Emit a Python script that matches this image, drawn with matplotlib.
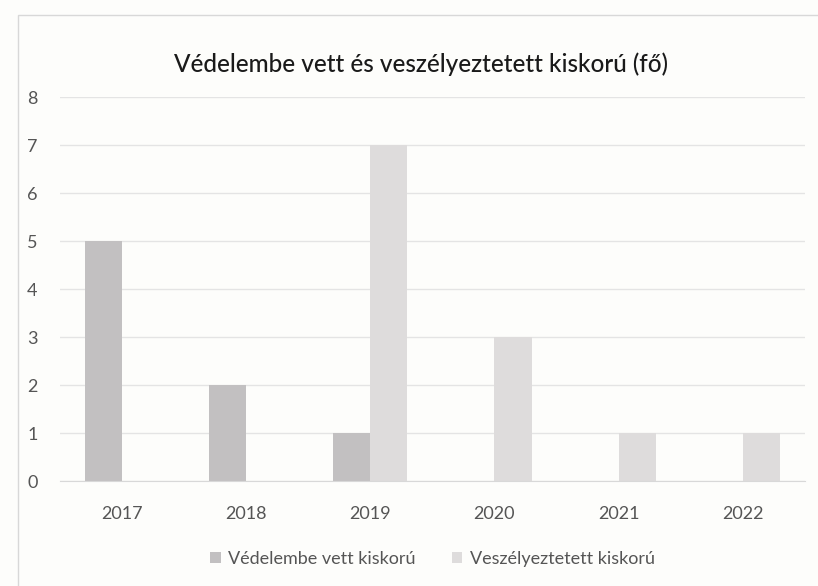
import matplotlib.pyplot as plt
import numpy as np

# données
evek = ["2017", "2018", "2019", "2020", "2021", "2022"]
vedelembe_vett = [5, 2, 1, 0, 0, 0]
veszelyeztetett = [0, 0, 7, 3, 1, 1]
cimkek = ["Védelembe vett kiskorú", "Veszélyeztetett kiskorú"]
cim = "Védelembe vett és veszélyeztetett kiskorú (fő)"

plt.rcParams['font.family'] = ['Lato', 'DejaVu Sans']

fig = plt.figure(figsize=(8.18, 5.86), dpi=100)
fig.patch.set_facecolor("#fdfdfb")

# cadre du graphique (scan)
fig.add_artist(plt.Rectangle((0.022, -0.05), 1.2, 1.025, transform=fig.transFigure,
                             fill=False, edgecolor="#d8d8d8", lw=1.0))

ax = fig.add_axes([0.073, 0.179, 0.911, 0.655])
ax.set_facecolor("#fdfdfb")

x = np.arange(len(evek))
w = 0.3
ax.bar(x - w / 2, vedelembe_vett, width=w, color="#c2c0c1", label=cimkek[0])
ax.bar(x + w / 2, veszelyeztetett, width=w, color="#dedcdc", label=cimkek[1])

ax.set_ylim(0, 8)
ax.set_xlim(-0.5, len(evek) - 0.5)
ax.set_yticks(range(0, 9))
ax.set_xticks(x)
ax.set_xticklabels(evek)
ax.yaxis.grid(True, color="#e4e4e4", lw=1)
ax.set_axisbelow(True)
for s in ["top", "right", "left"]:
    ax.spines[s].set_visible(False)
ax.spines["bottom"].set_color("#d8d8d8")
ax.tick_params(axis="both", length=0, colors="#555555", labelsize=13)
ax.tick_params(axis="y", pad=16)
ax.tick_params(axis="x", pad=18)

fig.text(0.515, 0.89, cim, ha="center", va="center", fontsize=17.5,
         fontweight="medium", color="#1a1a1a")

ax.legend(loc="upper center", bbox_to_anchor=(0.5, -0.14), ncol=2, frameon=False,
          fontsize=13, labelcolor="#555555", handlelength=0.6, handleheight=0.6,
          columnspacing=2.0, handletextpad=0.4)

plt.savefig("out.png", dpi=100, facecolor=fig.get_facecolor())
